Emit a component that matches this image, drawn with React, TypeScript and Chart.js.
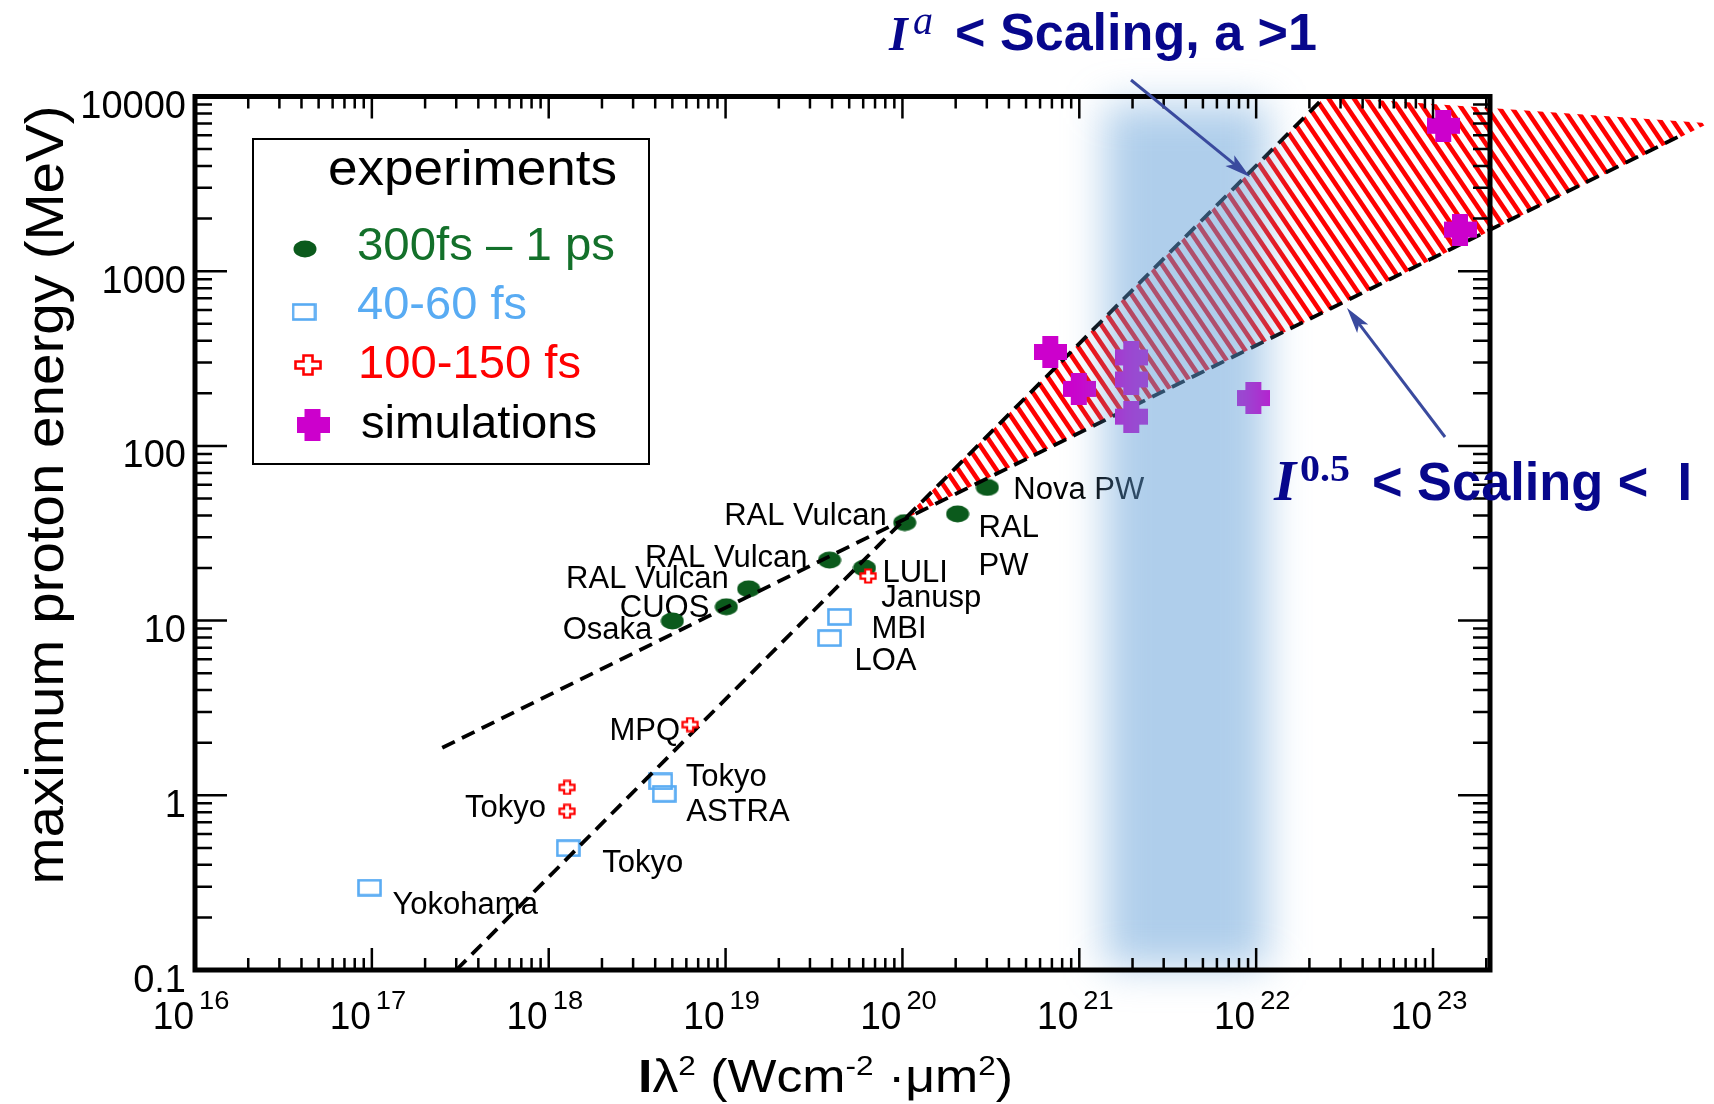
import React, { useEffect, useRef } from 'react';
import { Chart, registerables } from 'chart.js';

Chart.register(...registerables);

// ---------------- data ----------------
const greenX = [5.0e18, 1.01e19, 1.35e19, 3.87e19, 6.1e19, 1.03e20, 2.05e20, 3.02e20];
const greenY = [9.95, 12.0, 15.2, 22.2, 20.0, 36.4, 40.8, 57.8];
const blueX = [9.7e16, 1.29e18, 4.3e18, 4.5e18, 4.4e19, 3.87e19];
const blueY = [0.296, 0.498, 1.2, 1.02, 10.5, 7.94];
const redX = [1.27e18, 1.27e18, 6.3e18, 6.4e19];
const redY = [1.11, 0.81, 2.54, 18.0];
const simX = [6.9e20, 1.0e21, 1.98e21, 1.98e21, 1.98e21, 9.7e21, 1.15e23, 1.43e23];
const simY = [345, 212, 321, 240, 147, 188, 6800, 1730];
const fitLowX = [2.5e17, 2.45e24];
const fitLowY = [1.87, 5900];
const fitHighX = [3.0e17, 2.45e22];
const fitHighY = [0.1, 10000];
const hatchX = [1e20, 2.45e22, 3.62e24];
const hatchY = [37.5, 10000, 7040];
const bandX = [1.4e21, 1.15e22];
const bandY = [0.105, 9000];
const xMin = 1e16;
const xMax = 2.1e23;
const yMin = 0.1;
const yMax = 10000;
const xDecades = [16, 17, 18, 19, 20, 21, 22, 23];
const yDecades = [-1, 0, 1, 2, 3, 4];
const yTickLabels = ['0.1', '1', '10', '100', '1000', '10000'];
const seriesNames = ['300fs \u2013 1 ps', '40-60 fs', '100-150 fs', 'simulations'];
const legendTitle = 'experiments';
const yTitle = 'maximum proton energy (MeV)';

const pointLabels = [
  { text: 'RAL Vulcan', set: 'green', i: 5, dx: -18, dy: 2, align: 'right' },
  { text: 'RAL Vulcan', set: 'green', i: 3, dx: -22, dy: 7, align: 'right' },
  { text: 'RAL Vulcan', set: 'green', i: 2, dx: -20, dy: -1, align: 'right' },
  { text: 'CUOS', set: 'green', i: 1, dx: -17, dy: 10, align: 'right' },
  { text: 'Osaka', set: 'green', i: 0, dx: -20, dy: 18, align: 'right' },
  { text: 'LULI', set: 'green', i: 4, dx: 18, dy: 14, align: 'left' },
  { text: 'Janusp', set: 'red', i: 3, dx: 13, dy: 31, align: 'left' },
  { text: 'MBI', set: 'blue', i: 4, dx: 32, dy: 21, align: 'left' },
  { text: 'LOA', set: 'blue', i: 5, dx: 25, dy: 32, align: 'left' },
  { text: 'RAL', set: 'green', i: 6, dx: 21, dy: 23, align: 'left' },
  { text: 'PW', set: 'green', i: 6, dx: 21, dy: 61, align: 'left' },
  { text: 'Nova PW', set: 'green', i: 7, dx: 26, dy: 12, align: 'left' },
  { text: 'MPQ', set: 'red', i: 2, dx: -10, dy: 15, align: 'right' },
  { text: 'Tokyo', set: 'blue', i: 2, dx: 25, dy: 5, align: 'left' },
  { text: 'ASTRA', set: 'blue', i: 3, dx: 22, dy: 27, align: 'left' },
  { text: 'Tokyo', set: 'red', i: 1, dx: -21, dy: 6, align: 'right' },
  { text: 'Tokyo', set: 'blue', i: 1, dx: 34, dy: 24, align: 'left' },
  { text: 'Yokohama', set: 'blue', i: 0, dx: 23, dy: 26, align: 'left' },
];

// ---------------- styles ----------------
const SANS = '"Liberation Sans", Arial, sans-serif';
const SERIF = '"Liberation Serif", "Times New Roman", serif';
const GREEN = '#0b5a1c';
const GREEN_TXT = '#13702a';
const BLUE = '#58abf3';
const RED = '#ff0000';
const MAGENTA = '#cc00cc';
const NAVY = '#07078c';
const ARROW = '#3a4a9e';

function makeCanvas(w: number, h: number, draw: (g: CanvasRenderingContext2D) => void) {
  const c = document.createElement('canvas');
  c.width = w;
  c.height = h;
  const g = c.getContext('2d') as CanvasRenderingContext2D;
  draw(g);
  return c;
}

function plusPath(g: CanvasRenderingContext2D, x0: number, y0: number, w: number, h: number, a: number, b: number) {
  const cx = x0 + w / 2, cy = y0 + h / 2;
  g.beginPath();
  g.moveTo(cx - a, y0);
  g.lineTo(cx + a, y0);
  g.lineTo(cx + a, cy - b);
  g.lineTo(x0 + w, cy - b);
  g.lineTo(x0 + w, cy + b);
  g.lineTo(cx + a, cy + b);
  g.lineTo(cx + a, y0 + h);
  g.lineTo(cx - a, y0 + h);
  g.lineTo(cx - a, cy + b);
  g.lineTo(x0, cy + b);
  g.lineTo(x0, cy - b);
  g.lineTo(cx - a, cy - b);
  g.closePath();
}

function makeMarkers() {
  const ellipse = makeCanvas(24, 18, (g) => {
    g.fillStyle = GREEN;
    g.beginPath();
    g.ellipse(12, 9, 11.5, 8.5, 0, 0, Math.PI * 2);
    g.fill();
  });
  const square = makeCanvas(25, 18, (g) => {
    g.strokeStyle = BLUE;
    g.lineWidth = 2.6;
    g.strokeRect(1.5, 1.5, 22, 15);
  });
  const cross = makeCanvas(18, 16, (g) => {
    plusPath(g, 1.5, 1.5, 15, 13, 3, 2.6);
    g.fillStyle = '#fff';
    g.fill();
    g.strokeStyle = RED;
    g.lineWidth = 2.2;
    g.stroke();
  });
  const crossBig = makeCanvas(28, 22, (g) => {
    plusPath(g, 1.5, 1.5, 25, 19, 4.5, 3.5);
    g.fillStyle = '#fff';
    g.fill();
    g.strokeStyle = RED;
    g.lineWidth = 2.6;
    g.stroke();
  });
  const sim = makeCanvas(33, 32, (g) => {
    g.fillStyle = MAGENTA;
    const s = 32, n = 8;
    g.beginPath();
    g.moveTo(n, 0); g.lineTo(s - n, 0); g.lineTo(s - n, n); g.lineTo(s + 1, n);
    g.lineTo(s + 1, s - n); g.lineTo(s - n, s - n); g.lineTo(s - n, s); g.lineTo(n, s);
    g.lineTo(n, s - n); g.lineTo(0, s - n); g.lineTo(0, n); g.lineTo(n, n);
    g.closePath();
    g.fill();
  });
  return { ellipse, square, cross, crossBig, sim };
}

function textFit(ctx: CanvasRenderingContext2D, text: string, font: string, x: number, y: number, opts: { width?: number; scale?: number; align?: 'left' | 'right' | 'center' } = {}) {
  ctx.font = font;
  const w = ctx.measureText(text).width;
  const s = opts.width ? opts.width / w : (opts.scale || 1);
  const tw = w * s;
  let left = x;
  if (opts.align === 'right') left = x - tw;
  if (opts.align === 'center') left = x - tw / 2;
  ctx.save();
  ctx.textAlign = 'left';
  ctx.textBaseline = 'alphabetic';
  ctx.translate(left, y);
  ctx.scale(s, 1);
  ctx.fillText(text, 0, 0);
  ctx.restore();
  return tw;
}

type Part = { t: string; font: string; dy?: number };
function richFit(ctx: CanvasRenderingContext2D, parts: Part[], x: number, y: number, width: number) {
  let total = 0;
  const ws = parts.map((p) => { ctx.font = p.font; const w = ctx.measureText(p.t).width; total += w; return w; });
  const s = width / total;
  ctx.save();
  ctx.textAlign = 'left';
  ctx.textBaseline = 'alphabetic';
  ctx.translate(x, y);
  ctx.scale(s, 1);
  let cx = 0;
  parts.forEach((p, i) => { ctx.font = p.font; ctx.fillText(p.t, cx, p.dy || 0); cx += ws[i]; });
  ctx.restore();
}

function arrow(ctx: CanvasRenderingContext2D, x1: number, y1: number, x2: number, y2: number) {
  const ang = Math.atan2(y2 - y1, x2 - x1);
  ctx.save();
  ctx.strokeStyle = ARROW;
  ctx.fillStyle = ARROW;
  ctx.lineWidth = 3;
  ctx.beginPath();
  ctx.moveTo(x1, y1);
  ctx.lineTo(x2 - Math.cos(ang) * 10, y2 - Math.sin(ang) * 10);
  ctx.stroke();
  const L = 26, hw = 7;
  const bx = x2 - Math.cos(ang) * L, by = y2 - Math.sin(ang) * L;
  const px = -Math.sin(ang) * hw, py = Math.cos(ang) * hw;
  ctx.beginPath();
  ctx.moveTo(x2, y2);
  ctx.lineTo(bx + px, by + py);
  ctx.lineTo(x2 - Math.cos(ang) * (L - 6), y2 - Math.sin(ang) * (L - 6));
  ctx.lineTo(bx - px, by - py);
  ctx.closePath();
  ctx.fill();
  ctx.restore();
}

export default function App() {
  const ref = useRef<HTMLCanvasElement | null>(null);

  useEffect(() => {
    const canvas = ref.current;
    if (!canvas) return;
    const mk = makeMarkers();
    const pts = (xs: number[], ys: number[]) => xs.map((x, i) => ({ x, y: ys[i] }));
    const sets: Record<string, { xs: number[]; ys: number[] }> = {
      green: { xs: greenX, ys: greenY },
      blue: { xs: blueX, ys: blueY },
      red: { xs: redX, ys: redY },
    };

    const plugin = {
      id: 'decor',
      beforeDatasetsDraw(chart: any) {
        const ctx: CanvasRenderingContext2D = chart.ctx;
        const xs = chart.scales.x, ys = chart.scales.y;
        const P = (x: number, y: number) => [xs.getPixelForValue(x), ys.getPixelForValue(y)];
        // hatched region
        ctx.save();
        ctx.beginPath();
        let minX = 1e9, maxX = -1e9, minY = 1e9, maxY = -1e9;
        hatchX.forEach((x, i) => {
          const [px, py] = P(x, hatchY[i]);
          minX = Math.min(minX, px); maxX = Math.max(maxX, px);
          minY = Math.min(minY, py); maxY = Math.max(maxY, py);
          if (i) ctx.lineTo(px, py); else ctx.moveTo(px, py);
        });
        ctx.closePath();
        ctx.fillStyle = '#fff';
        ctx.fill();
        ctx.clip();
        const ang = 56 * Math.PI / 180;
        const dxl = Math.cos(ang), dyl = Math.sin(ang);
        const nx = Math.sin(ang), ny = -Math.cos(ang);
        const cx = (minX + maxX) / 2, cy = (minY + maxY) / 2;
        const span = Math.hypot(maxX - minX, maxY - minY);
        const period = 10.5;
        ctx.strokeStyle = RED;
        ctx.lineWidth = 4.6;
        for (let k = -Math.ceil(span / period); k <= Math.ceil(span / period); k++) {
          const ox = cx + nx * k * period, oy = cy + ny * k * period;
          ctx.beginPath();
          ctx.moveTo(ox - dxl * span, oy - dyl * span);
          ctx.lineTo(ox + dxl * span, oy + dyl * span);
          ctx.stroke();
        }
        ctx.restore();

        // point labels
        ctx.save();
        ctx.fillStyle = '#000';
        pointLabels.forEach((l) => {
          const s = sets[l.set];
          const [px, py] = P(s.xs[l.i], s.ys[l.i]);
          textFit(ctx, l.text, `31px ${SANS}`, px + l.dx, py + l.dy, { align: l.align as any });
        });
        ctx.restore();
      },
      afterDatasetsDraw(chart: any) {
        const ctx: CanvasRenderingContext2D = chart.ctx;
        const xs = chart.scales.x, ys = chart.scales.y;
        const a = chart.chartArea;
        const P = (x: number, y: number) => [xs.getPixelForValue(x), ys.getPixelForValue(y)];

        // translucent blue band (soft edges)
        ctx.save();
        ctx.filter = 'blur(20px)';
        ctx.fillStyle = 'rgba(95,158,215,0.5)';
        const [bx0, by0] = P(bandX[0], bandY[1]);
        const [bx1, by1] = P(bandX[1], bandY[0]);
        ctx.fillRect(bx0, by0, bx1 - bx0, by1 - by0);
        ctx.restore();

        // frame
        ctx.save();
        ctx.strokeStyle = '#000';
        ctx.lineWidth = 5;
        ctx.strokeRect(a.left, a.top, a.right - a.left, a.bottom - a.top);
        // ticks
        ctx.lineWidth = 2.5;
        ctx.beginPath();
        xDecades.forEach((d) => {
          for (let m = 1; m <= 9; m++) {
            const v = m * Math.pow(10, d);
            if (v < xMin * 0.999 || v > xMax) continue;
            const px = xs.getPixelForValue(v);
            const len = m === 1 ? 22 : 12;
            ctx.moveTo(px, a.bottom); ctx.lineTo(px, a.bottom - len);
            ctx.moveTo(px, a.top); ctx.lineTo(px, a.top + len);
          }
        });
        yDecades.forEach((d) => {
          for (let m = 1; m <= 9; m++) {
            const v = m * Math.pow(10, d);
            if (v < yMin * 0.999 || v > yMax * 1.001) continue;
            const py = ys.getPixelForValue(v);
            const len = m === 1 ? 32 : 17;
            ctx.moveTo(a.left, py); ctx.lineTo(a.left + len, py);
            ctx.moveTo(a.right, py); ctx.lineTo(a.right - len, py);
          }
        });
        ctx.stroke();
        ctx.restore();

        // tick labels
        ctx.save();
        ctx.fillStyle = '#000';
        yDecades.forEach((d, i) => {
          const py = ys.getPixelForValue(Math.pow(10, d));
          textFit(ctx, yTickLabels[i], `38px ${SANS}`, a.left - 9, py + 21.5, { align: 'right' });
        });
        xDecades.forEach((d) => {
          const px = xs.getPixelForValue(Math.pow(10, d));
          textFit(ctx, '10', `39px ${SANS}`, px - 1, a.bottom + 59, { align: 'right', scale: 0.95 });
          textFit(ctx, String(d), `26px ${SANS}`, px + 4, a.bottom + 39, { align: 'left', scale: 1.05 });
        });
        ctx.restore();

        // axis titles
        ctx.save();
        ctx.fillStyle = '#000';
        richFit(ctx, [
          { t: 'I', font: `bold 46px ${SANS}` },
          { t: '\u03bb', font: `46px ${SANS}` },
          { t: '2', font: `28px ${SANS}`, dy: -17 },
          { t: ' (Wcm', font: `46px ${SANS}` },
          { t: '-2', font: `28px ${SANS}`, dy: -17 },
          { t: ' \u00b7\u03bcm', font: `46px ${SANS}` },
          { t: '2', font: `28px ${SANS}`, dy: -17 },
          { t: ')', font: `46px ${SANS}` },
        ], 638, 1092, 375);
        ctx.translate(63, 495);
        ctx.rotate(-Math.PI / 2);
        textFit(ctx, yTitle, `54px ${SANS}`, 0, 0, { align: 'center', width: 779 });
        ctx.restore();

        // legend
        ctx.save();
        ctx.fillStyle = '#fff';
        ctx.fillRect(253, 139, 396, 325);
        ctx.strokeStyle = '#000';
        ctx.lineWidth = 2;
        ctx.strokeRect(253, 139, 396, 325);
        ctx.fillStyle = '#000';
        textFit(ctx, legendTitle, `50px ${SANS}`, 328, 185, { width: 289 });
        ctx.drawImage(mk.ellipse, 305 - 12, 249 - 9);
        ctx.fillStyle = GREEN_TXT;
        textFit(ctx, seriesNames[0], `47px ${SANS}`, 357, 260, { width: 258 });
        ctx.drawImage(mk.square, 304 - 12.5, 312 - 9);
        ctx.fillStyle = BLUE;
        textFit(ctx, seriesNames[1], `47px ${SANS}`, 357, 319, { width: 170 });
        ctx.drawImage(mk.crossBig, 308 - 14, 365 - 11);
        ctx.fillStyle = RED;
        textFit(ctx, seriesNames[2], `47px ${SANS}`, 358, 378, { width: 223 });
        ctx.drawImage(mk.sim, 313 - 16.5, 425 - 16);
        ctx.fillStyle = '#000';
        textFit(ctx, seriesNames[3], `47px ${SANS}`, 361, 438, { width: 236 });
        ctx.restore();

        // annotation titles
        ctx.save();
        ctx.fillStyle = NAVY;
        textFit(ctx, 'I', `bold italic 48px ${SERIF}`, 889, 50);
        textFit(ctx, 'a', `italic 40px ${SERIF}`, 913, 34);
        textFit(ctx, '< Scaling, a >1', `bold 52px ${SANS}`, 955, 50, { width: 362 });
        textFit(ctx, 'I', `bold italic 57px ${SERIF}`, 1274, 500);
        textFit(ctx, '0.5', `bold 37px ${SERIF}`, 1300, 481, { width: 50 });
        textFit(ctx, '< Scaling <  I', `bold 53px ${SANS}`, 1372, 500, { width: 320 });
        ctx.restore();

        arrow(ctx, 1131, 80, 1250, 177);
        arrow(ctx, 1445, 437, 1347, 308);
      },
    };

    const lineDs = (xsA: number[], ysA: number[]) => ({
      data: pts(xsA, ysA),
      showLine: true,
      borderColor: '#000',
      borderWidth: 3.8,
      borderDash: [14, 8],
      pointRadius: 0,
      pointHoverRadius: 0,
      clip: false as any,
      order: 1,
    });

    const chart = new Chart(canvas, {
      type: 'scatter',
      data: {
        datasets: [
          lineDs(fitLowX, fitLowY) as any,
          lineDs(fitHighX, fitHighY) as any,
          { label: seriesNames[0], data: pts(greenX, greenY), pointStyle: mk.ellipse as any, pointRadius: 8, order: 3 },
          { label: seriesNames[1], data: pts(blueX, blueY), pointStyle: mk.square as any, pointRadius: 8, order: 2 },
          { label: seriesNames[2], data: pts(redX, redY), pointStyle: mk.cross as any, pointRadius: 8, order: 0 },
          { label: seriesNames[3], data: pts(simX, simY), pointStyle: mk.sim as any, pointRadius: 8, order: 0 },
        ],
      },
      options: {
        animation: false,
        responsive: false,
        maintainAspectRatio: false,
        events: [],
        layout: { padding: { left: 195, top: 96.5, right: 1714 - 1490, bottom: 1104 - 970 } },
        plugins: { legend: { display: false }, tooltip: { enabled: false } },
        scales: {
          x: { type: 'logarithmic', min: xMin, max: xMax, display: false },
          y: { type: 'logarithmic', min: yMin, max: yMax, display: false },
        },
      },
      plugins: [plugin as any],
    });
    return () => chart.destroy();
  }, []);

  return (
    <div style={{ position: 'fixed', left: 0, top: 0, width: 1714, height: 1104, background: '#fff' }}>
      <canvas ref={ref} width={1714} height={1104} style={{ display: 'block', width: 1714, height: 1104 }} />
    </div>
  );
}
